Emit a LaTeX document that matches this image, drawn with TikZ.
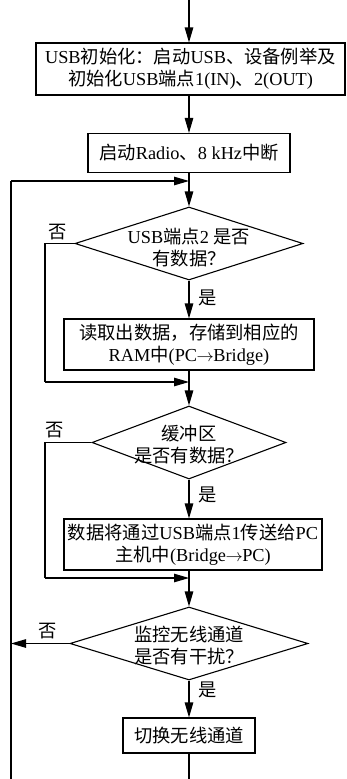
\documentclass[tikz,border=0pt]{standalone}
\usepackage{fontspec}
\setmainfont{Liberation Serif}
\newfontfamily\cjk{Noto Sans CJK SC}
\usetikzlibrary{arrows.meta,shapes.geometric}
\tikzset{
  box/.style={draw,line width=1.1pt,inner sep=0pt,align=center,font=\fontsize{18.3}{22}\selectfont},
  dia/.style={draw,line width=1.1pt,shape=diamond,inner sep=0pt},
  txt/.style={align=center,inner sep=0pt,font=\fontsize{18.3}{22}\selectfont},
  lbl/.style={inner sep=0pt,font=\fontsize{18.3}{22}\selectfont},
  line/.style={line width=1.1pt},
  arr/.style={line width=1.1pt,-{Triangle[length=15pt,width=8.5pt]}},
}
\newcommand{\rarr}{\kern-0.5pt$\rightarrow$\kern-0.5pt}
\begin{document}
\begin{tikzpicture}[x=1pt,y={(0pt,-1pt)}]
\fill[white] (0,0) rectangle (346,779);
\useasboundingbox (0,0) rectangle (346,779);

\coordinate (top) at (189,0);
\node[box,minimum width=309pt,minimum height=52pt] (b1) at (190.5,69)
  {USB{\cjk 初始化：启动}USB{\cjk 、设备例举及}\\{\cjk 初始化}USB{\cjk 端点}1(IN){\cjk 、}2(OUT)};
\node[box,minimum width=202pt,minimum height=39pt] (b2) at (189,153)
  {{\cjk 启动}Radio{\cjk 、}8 kHz{\cjk 中断}};

\node[dia,minimum width=228pt,minimum height=73pt] (d1) at (189,243.5) {};
\node[txt] (t1) at (189,248) {USB{\cjk 端点}2 {\cjk 是否}\\{\cjk 有数据？}};

\node[box,minimum width=250pt,minimum height=51pt] (b3) at (189,344.5)
  {{\cjk 读取出数据，存储到相应的}\\RAM{\cjk 中}(PC\rarr Bridge)};

\node[dia,minimum width=194pt,minimum height=73pt] (d2) at (189,442.5) {};
\node[txt] (t2) at (189,445) {{\cjk 缓冲区}\\{\cjk 是否有数据？}};

\node[box,minimum width=258pt,minimum height=51pt] (b4) at (193,544.5)
  {{\cjk 数据将通过}USB{\cjk 端点}1{\cjk 传送给}PC\\{\cjk 主机中}(Bridge\rarr PC)};

\node[dia,minimum width=238pt,minimum height=73pt] (d3) at (189,643.5) {};
\node[txt] (t3) at (189,646) {{\cjk 监控无线通道}\\{\cjk 是否有干扰？}};

\node[box,minimum width=132pt,minimum height=35pt] (b5) at (189,735.5)
  {{\cjk 切换无线通道}};

\coordinate (bot) at (189,779);
\coordinate (m1) at (189,181);
\coordinate (m2) at (189,382);
\coordinate (m3) at (189,578);
\coordinate (L0) at (11,779);
\coordinate (L1) at (11,181);
\coordinate (L3) at (11,643.5);
\coordinate (k1) at (45,243.5);
\coordinate (k1b) at (45,382);
\coordinate (k2) at (45,442.5);
\coordinate (k2b) at (45,578);

% labels
\node[lbl] (n1) at (58,232) {\cjk 否};
\node[lbl] (n2) at (55,430) {\cjk 否};
\node[lbl] (n3) at (48,631) {\cjk 否};
\node[lbl] (y1) at (208,298) {\cjk 是};
\node[lbl] (y2) at (208,495) {\cjk 是};
\node[lbl] (y3) at (208,690) {\cjk 是};

% main flow
\draw[arr] (top) -- (b1.north -| top);
\draw[arr] (b1.south -| top) -- (b2.north);
\draw[arr] (b2.south) -- (d1.north);
\draw[arr] (d1.south) -- (b3.north);
\draw[arr] (b3.south) -- (d2.north);
\draw[arr] (d2.south) -- (b4.north -| top);
\draw[arr] (b4.south -| top) -- (d3.north);
\draw[arr] (d3.south) -- (b5.north);
\draw[line] (b5.south) -- (bot);

% no branches
\draw[line] (d1.west) -- (k1) -- (k1b);
\draw[arr] (k1b) -- (m2);
\draw[line] (d2.west) -- (k2) -- (k2b);
\draw[arr] (k2b) -- (m3);
\draw[arr] (d3.west) -- (L3);
\draw[line] (L0) -- (L1);
\draw[arr] (L1) -- (m1);
\end{tikzpicture}
\end{document}
